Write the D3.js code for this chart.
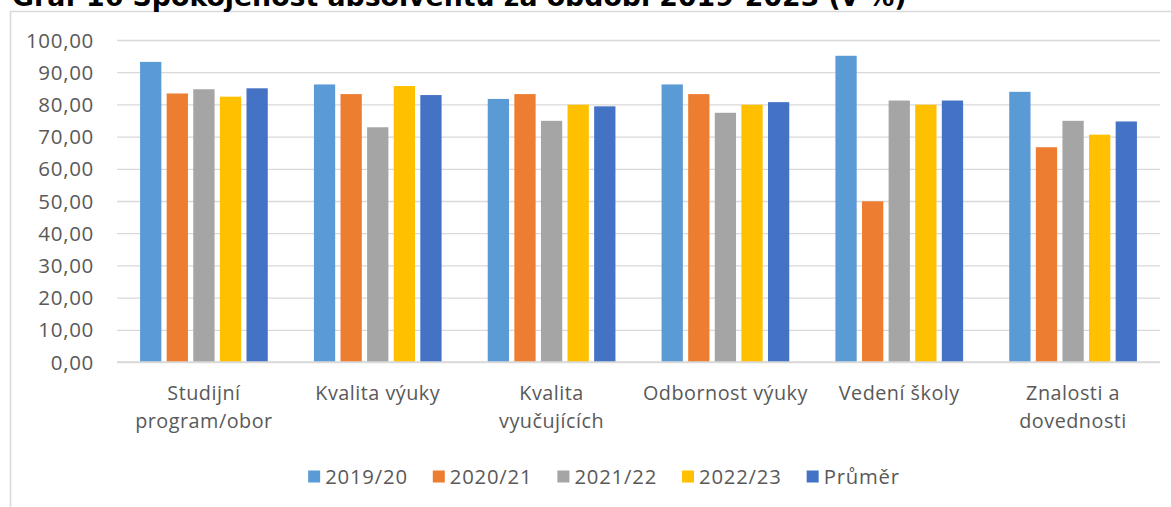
<!DOCTYPE html>
<html><head><meta charset="utf-8">
<script src="https://cdn.jsdelivr.net/npm/d3@7"></script>
<style>
html,body{margin:0;padding:0;background:#fff;overflow:hidden}
svg{display:block}
</style></head>
<body>
<svg id="c" width="1171" height="507"></svg>
<script>
const title = "Graf 16 Spokojenost absolventů za období 2019-2023 (v %)";
const categories = [["Studijní","program/obor"],["Kvalita výuky"],["Kvalita","vyučujících"],["Odbornost výuky"],["Vedení školy"],["Znalosti a","dovednosti"]];
const seriesNames = ["2019/20","2020/21","2021/22","2022/23","Průměr"];
const colors = ["#5B9BD5","#ED7D31","#A5A5A5","#FFC000","#4472C4"];
const v2019 = [93.2, 86.2, 81.7, 86.2, 95.1, 83.9];
const v2020 = [83.4, 83.2, 83.2, 83.2, 49.9, 66.7];
const v2021 = [84.7, 72.9, 74.9, 77.4, 81.2, 74.9];
const v2022 = [82.4, 85.7, 79.9, 79.9, 79.9, 70.6];
const vAvg  = [85.0, 82.9, 79.4, 80.7, 81.2, 74.7];
const yTicks = [0,10,20,30,40,50,60,70,80,90,100];

const series = [v2019, v2020, v2021, v2022, vAvg];
const svg = d3.select("#c");
const font = "'Open Sans', sans-serif";
const L = 117, R = 1160, T = 40, B = 362;

// chart frame
svg.append("path").attr("d","M10.5,507 L10.5,11.5 L1171,11.5").attr("fill","none").attr("stroke","#d9d9d9").attr("stroke-width",1.5);

// title
const tt = svg.append("text").attr("x",12).attr("y",6).attr("font-family","Verdana, 'DejaVu Sans', sans-serif")
  .attr("font-weight","bold").attr("font-size",21).attr("fill","#000").text(title);
const tw = tt.node().getComputedTextLength();
tt.attr("font-size", 21*895/tw);

const catKeys = categories.map(c=>c.join(" "));
const x0 = d3.scaleBand().domain(catKeys).range([L,R]).padding(0);
const gap = (x0.bandwidth() - 127.7)/2;
const x1 = d3.scaleBand().domain(seriesNames).range([gap, x0.bandwidth()-gap]).paddingInner(0.2).paddingOuter(0);
const y = d3.scaleLinear().domain([0,100]).range([B,T]);

// gridlines
const yAxis = d3.axisLeft(y).tickValues(yTicks).tickSize(-(R-L)).tickPadding(23)
  .tickFormat(d=>d3.format(".2f")(d).replace(".",","));
const ga = svg.append("g").attr("transform",`translate(${L},0)`).call(yAxis);
ga.select(".domain").remove();
ga.selectAll("line").attr("stroke","#d9d9d9").attr("stroke-width",1.3);
ga.selectAll("text").attr("font-family",font).attr("font-size",20.5).attr("letter-spacing","0.7px").attr("fill","#595959").attr("dy","0.35em");

// bars
const groups = svg.append("g").selectAll("g").data(catKeys).join("g")
  .attr("transform",d=>`translate(${x0(d)},0)`);
groups.selectAll("rect").data((d,i)=>series.map((s,j)=>({name:seriesNames[j], v:s[i], c:colors[j]})))
  .join("rect")
  .attr("x",d=>x1(d.name)).attr("width",x1.bandwidth())
  .attr("y",d=>y(d.v)).attr("height",d=>y(0)-y(d.v)).attr("fill",d=>d.c);

// baseline
svg.append("line").attr("x1",L).attr("x2",R).attr("y1",B).attr("y2",B).attr("stroke","#d9d9d9").attr("stroke-width",1.5);

// category labels
const cl = svg.append("g");
categories.forEach((lines,i)=>{
  const t = cl.append("text").attr("text-anchor","middle").attr("font-family",font).attr("font-size",19.8).attr("letter-spacing","0.5px").attr("fill","#595959");
  lines.forEach((ln,k)=>{
    t.append("tspan").attr("x", x0(catKeys[i]) + x0.bandwidth()/2).attr("y", 400 + k*28).text(ln);
  });
});

// legend
const lg = svg.append("g");
const items = seriesNames.map((n,i)=>{
  const g = lg.append("g");
  g.append("rect").attr("width",12).attr("height",12).attr("y",-6.5).attr("fill",colors[i]);
  const t = g.append("text").attr("x",17).attr("y",0).attr("dy","0.35em").attr("font-family",font).attr("font-size",20.3).attr("letter-spacing","0.8px").attr("fill","#595959").text(n);
  return {g, w: 17 + t.node().getComputedTextLength()};
});
const spacing = 25;
const total = d3.sum(items, d=>d.w) + spacing*(items.length-1);
let cx = 604 - total/2;
items.forEach(it=>{ it.g.attr("transform",`translate(${cx},477)`); cx += it.w + spacing; });
</script>
</body></html>
